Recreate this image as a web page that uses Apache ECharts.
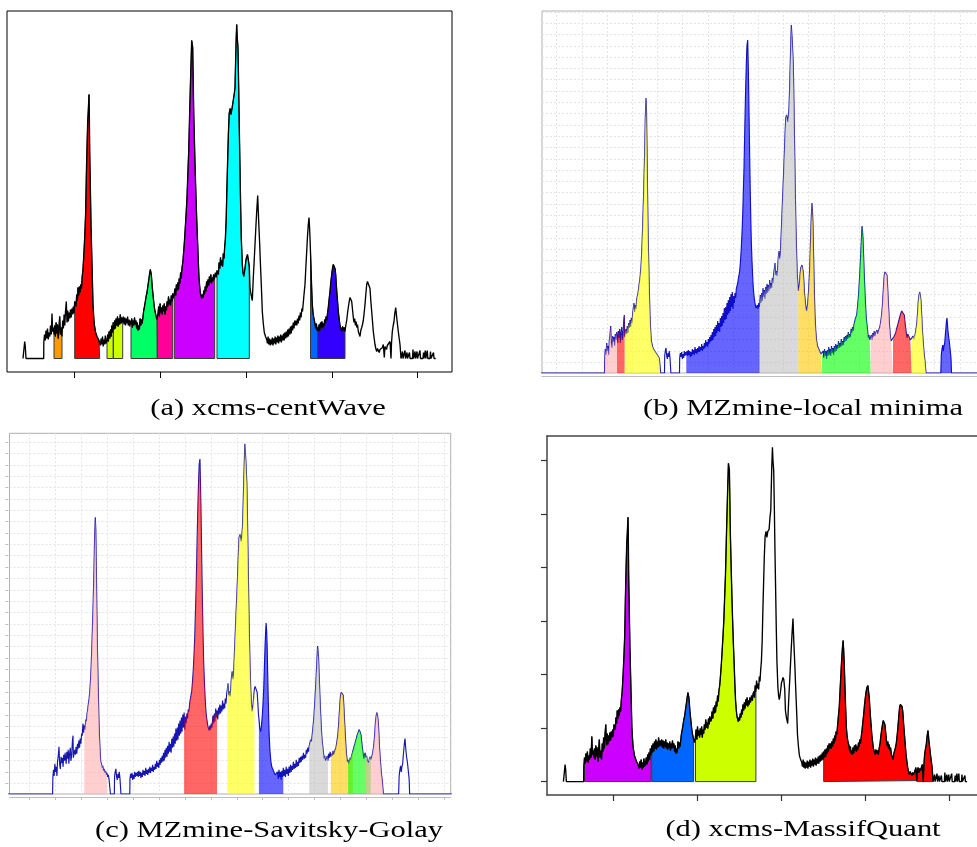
<!DOCTYPE html>
<html><head><meta charset="utf-8">
<script src="https://cdn.jsdelivr.net/npm/echarts@6/dist/echarts.min.js"></script>
<style>html,body{margin:0;padding:0;background:#fff;overflow:hidden}#c{width:977px;height:847px}</style>
</head><body><div id="c"></div><script>
// ---- xcms chromatogram (panels a, d): [scan, intensity] ----
const xcmsTrace = [
[3,0],[4,0],[4.7,17],[5.3,12],[6,0],[23.7,0],
[23.8,16],[24.5,24],[25.3,18],[26,28],[26.8,20],[27.5,30],[28.3,19],[29,26],[29.8,22],[30.5,33],[31.3,24],[32,45],[32.7,27],[33.5,31],[34,24],
[34.7,33],[35.4,22],[36.1,36],[36.8,25],[37.5,34],[38.2,20],[38.9,30],[39.7,42],[40.4,24],[41.1,31],[42,22],
[42.7,38],[43.4,30],[44.1,44],[44.8,33],[45.5,47],[46.3,57],[47,36],[47.7,48],[48.4,37],[49.1,46],[49.8,40],[50.5,49],[51.2,41],[51.9,50],[52.6,44],[53.3,52],[54,45],[54.7,57],
[55.3,58],[56,52],[56.7,64],[57.4,58],[58,71],[58.7,63],[59.4,72],[60.1,66],[60.8,74],[61.5,70],[62.2,82],[62.9,88],[63.7,101],[64.7,121],[65.7,147],[66.3,181],[67,211],[67.7,237],[68.3,248],[69,264],[69.3,248],[69.7,207],[70.3,174],[71,134],[72,94],[73,54],[73.7,42],[74.3,34],[75,30],[75.6,26],[76.3,24],[77,22],[77.7,20],[78.4,21],[79,18],[79.7,17],
[80.4,13],[81.1,20],[81.8,14],[82.5,22],[83.2,12],[83.9,19],[84.6,14],[85.3,23],[86,15],[87,18],
[87.7,24],[88.4,17],[89.1,27],[89.8,20],[90.5,29],[91.2,22],[91.9,33],[92.6,26],[93.3,36],[94,29],[94.7,38],[95.4,30],[96.1,40],[96.8,33],[97.5,42],[98.2,32],[98.9,40],[99.6,34],[100.3,44],[101,35],[101.7,41],[102.7,36],
[103.4,42],[104.1,34],[104.8,41],[105.5,33],[106.2,40],[106.9,35],[107.6,42],[108.3,33],[109,39],[109.7,32],[110.4,38],[111,34],
[111.7,40],[112.4,31],[113.1,38],[113.8,33],[114.5,41],[115.2,34],[115.9,38],[116.6,30],[117.3,36],[118,28],[118.7,33],[119.4,29],[120.1,40],[120.8,33],[121.5,39],[122.2,35],[123,42],[123.7,48],[124.5,52],[125.3,57],[126.1,62],[127,66],[127.8,72],[128.7,78],[129.5,84],[130.3,89],[131.3,84],[132.3,71],[133,64],[133.7,57],[134.5,50],[135.3,46],[136.1,42],[137,39],[137.3,41],
[138,45],[138.7,52],[139.4,42],[140.1,55],[140.8,46],[141.5,51],[142.2,44],[142.9,53],[143.6,47],[144.3,55],[145,44],[145.7,52],[146.4,48],[147.1,57],[147.8,52],[148.5,62],[149.2,54],[149.9,59],[150.6,53],[151.3,63],[152,57],[152.7,65],
[153.5,60],
[154.3,62],[155,70],[155.7,63],[156.4,74],[157.1,68],[157.8,76],[158.5,69],[159.2,80],[159.9,75],[160.6,86],[161.3,80],[162,91],[162.8,96],[163.7,107],[164.5,118],[165.3,131],[166.2,146],[167,161],[167.8,183],[168.7,207],[169.7,247],[170.7,284],[171.7,318],[172.7,311],[173.7,247],[174.7,207],[175.3,184],[176,161],[176.8,137],[177.7,114],[178.3,97],[179,81],[179.7,72],[180.3,66],[181,63],[181.7,60],[182.4,64],[183.1,61],[183.8,68],[184.5,64],[185.2,72],[185.9,67],[186.6,77],[187.3,71],[188,79],[188.7,73],[189.4,82],[190.1,76],[190.8,84],[191.5,75],[192.2,81],[192.9,77],[193.6,84],[194.3,79],[194.7,82],
[195.4,86],[196.2,81],[197,88],
[197.7,90],[198.4,84],[199.1,96],[199.8,90],[200.5,101],[201.2,93],[201.9,98],[202.6,92],[203.3,105],[204,100],[204.7,112],[205.4,120],[206.2,140],[206.9,170],[207.7,200],[208.4,225],[209.2,245],[210.2,250],[211,244],[212,250],[213.3,252],[214.3,265],[215,271],[216,314],[216.7,334],[217.3,320],[218,311],[218.7,270],[219.3,230],[220,190],[220.7,150],[221.3,120],[222.3,94],[223,86],[223.7,82],[224.4,86],[225.2,92],[226,99],[226.7,101],[227.5,104],[228.3,102],[229.3,92],
[230,71],[231,64],[231.7,61],[232.3,58],[233.3,81],[234.2,98],[235,114],[235.8,130],[236.7,147],[237.7,163],[238.3,147],[239,130],[239.7,114],[240.3,98],[241,81],[241.7,64],[242.3,47],[243.3,35],[244.3,26],[245.5,22],[246.7,19],
[247.4,15],[248.1,22],[248.8,14],[249.5,20],[250.2,13],[250.9,19],[251.6,14],[252.3,21],[253,13],[253.7,20],[254.4,15],[255.1,22],[255.8,14],[256.5,21],[257.2,16],[257.9,23],[258.6,15],[259.3,22],[260,17],[260.7,24],[261.4,16],[262.1,23],[262.8,18],[263.5,25],[264.2,18],[264.9,26],[265.6,20],[266.3,27],[267,21],[267.7,29],[268.4,22],[269.1,30],[269.8,24],[270.5,32],[271.2,25],[271.9,33],[272.6,28],[273.3,36],[274,30],[274.7,38],[275.4,33],[276.1,38],[276.8,33],[277.5,40],[278.2,35],[279,43],[279.7,38],[280.4,46],[281.1,41],[281.8,50],[282.5,47],[283.3,56],[284.2,66],[285,74],[285.8,90],[286.7,107],[287.5,122],[288.3,134],[289,141],[289.5,132],[290,121],[290.5,106],[291,91],[291.6,72],[292.3,54],[293,46],[293.7,41],[294.4,38],[295,36],[295.7,30],[296.4,35],[297.1,28],[297.7,31],
[298.4,27],[299.1,34],[299.8,28],[300.5,36],[301.2,31],[301.9,37],[302.6,30],[303.3,35],[304,32],[304.7,39],[305.4,35],[306.1,42],[306.8,38],[307.5,45],[308.3,51],[309.1,59],[310,67],[310.8,76],[311.7,84],[312.5,90],[313.3,94],[314.3,96],[315,90],[315.7,84],[316.3,74],[317,64],[317.7,55],[318.3,47],[319.1,40],[320,33],[320.8,30],[321.7,27],[322.5,32],[323.3,28],[324.2,31],[325,27],
[325.8,33],[326.7,38],[327.5,45],[328.3,51],[329.2,57],[330,61],[330.8,60],[331.7,57],[332.5,49],[333.3,41],[334,36],[334.7,40],[335.4,33],[336.1,37],[336.8,31],[337.5,34],[338.3,27],[339.1,25],[340,22],[340.8,28],[341.7,31],[342.5,34],[343.3,38],[344.2,46],[345,54],[345.8,64],[346.7,74],[347.5,77],[348.3,78],[349.2,75],[350,70],[350.8,58],[351.7,47],[352.5,37],[353.3,27],[354.2,20],[355,14],[355.8,10],[356.7,7],[357.5,10],[358.3,9],[359.2,6],[360,9],[361,7],[361.7,8],[362.5,11],[363.3,14],[364.3,1],[365,12],[365.7,14],[366.5,9],[367.3,13],[368.3,11],[369.2,15],[370,17],[371,0],[371.5,15],[372.3,27],[373.2,33],[374,37],[374.8,45],[375.7,51],[376.7,41],[377.5,34],[378.3,27],[379.2,20],[380,14],[381,0],
[382,0],[382.5,7],[383,0],[384.5,0],[385,8],[385.5,0],[386.5,0],[387,6],[387.5,0],[389,0],[389.5,6],[390,0],[392.5,0],[393,9],[393.5,0],[394.5,0],[395,7],[395.5,0],[396.5,0],[397,7],[397.5,0],[399.5,0],[400,8],[400.5,0],[403,0],[403.5,6],[404,0],[404.8,0],[405.3,8],[405.8,0],[406.8,0],[407.3,8],[407.8,0],[410,0],[410.5,7],[411,0],[413,0],[413.5,6],[414,0],[415.7,0]
];

// ---- MZmine chromatogram (panels b, c): [scan, intensity] ----
const mzmineTrace = [
[-70,0],[4.5,0],
[4.7,15],[5.3,24],[6,18],[6.7,30],[7.3,22],[8,27],[8.7,18],[9.3,33],[10,38],[10.7,47],[11.3,30],[12,25],[12.7,37],[13.3,31],[14,36],[14.7,27],[15.3,39],[16,33],[16.7,41],[17,36],
[17.7,30],[18.3,42],[19,35],[19.7,44],[20.3,30],[21,40],[21.7,46],[22.3,33],[23,38],[23.7,52],[24.3,58],[24.7,36],
[25.3,35],[26,44],[26.7,39],[27.3,47],[28,40],[28.7,50],[29.3,45],[30,53],[30.7,46],[31.3,55],[32,50],[32.7,60],[33.3,58],[34,70],[34.7,61],[35.3,68],[36,64],[36.7,74],[37.3,72],[38,80],[38.7,85],[39.3,90],[40,95],[40.7,103],[41.3,112],[42,128],[42.7,148],[43.2,165],[43.7,182],[44.2,202],[44.7,222],[45.3,255],[46,275],[46.5,262],[47,225],[47.5,185],[48,148],[48.5,122],[49,98],[49.5,76],[50,58],[50.7,42],[51.3,32],[52,30],[52.7,26],[53.3,28],[54,23],[54.7,25],[55.3,21],[56,23],[56.7,19],[57.3,21],[58,17],[58.7,19],[59.3,15],[60.3,14],[60.7,0],
[64.5,0],[64.7,17],[65.3,22],[66,25],[66.7,17],[67.3,14],[68,20],[68.7,16],[69.3,22],[70,15],[70.7,14],[70.9,0],
[79.5,0],[79.7,15],[80.3,20],[81,16],[81.7,21],[82.3,14],[83,19],[83.7,15],[84.3,22],[85,17],[85.7,21],[86.3,18],
[87,22],[87.7,17],[88.3,23],[89,18],[89.7,22],[90.3,16],[91,21],[91.7,17],[92.3,24],[93,19],[93.7,23],[94.3,18],[95,26],[95.7,20],[96.3,24],[97,19],[97.7,25],[98.3,21],[99,27],[99.7,21],[100.3,26],[101,23],[101.7,29],[102.3,22],[103,27],[103.7,24],[104.3,30],[105,25],[105.7,33],[106.3,27],[107,31],[107.7,26],[108.3,34],[109,29],[109.7,36],[110.3,31],[111,38],[111.7,32],[112.3,41],[113,33],[113.7,44],[114.3,36],[115,46],[115.7,37],[116.3,48],[117,40],[117.7,52],[118.3,42],[119,50],[119.7,41],[120.3,55],[121,46],[121.7,57],[122.3,47],[123,60],[123.7,50],[124.3,65],[125,53],[125.7,66],[126.3,54],[127,70],[127.7,58],[128.3,73],[129,60],[129.7,76],[130.3,62],[131,79],[131.7,66],[132.3,81],[133,64],[133.7,77],[134.3,70],[135,80],[135.7,75],[136.3,84],[137,82],[137.7,90],[138.3,94],[139,98],[139.7,102],[140.5,112],[141.3,125],[142,140],[142.7,158],[143.3,180],[144,205],[144.5,230],[145,255],[145.5,278],[146,298],[146.5,315],[147,328],[147.7,333],[148.2,310],[148.7,282],[149.2,248],[149.7,215],[150.2,185],[150.7,158],[151.3,132],[152,112],[152.7,96],[153.3,85],[154,77],[154.7,72],[155.3,68],[156,65],[156.7,63],[157.3,68],[158,64],[158.7,70],[159.3,66],[159.7,69],
[160.3,78],[161,70],[161.7,80],[162.3,72],[163,85],[163.7,76],[164.3,83],[165,74],[165.7,86],[166.3,79],[167,89],[167.7,80],[168.3,88],[169,82],[169.7,93],[170.3,84],[171,90],[171.7,85],[172.3,95],[173,90],[173.7,100],[174.3,104],[175,110],[175.6,98],[176.3,102],[177,97],[177.7,106],[178.3,116],[179,122],[179.7,114],[180.3,118],[181,135],[181.7,152],[182.3,168],[183,185],[183.7,202],[184.3,218],[185,238],[185.7,255],[186.7,258],[187.7,251],[188.3,256],[189,265],[189.7,288],[190.3,312],[190.8,330],[191.3,348],[191.8,340],[192.3,332],[192.8,320],[193.3,308],[193.8,280],[194.3,248],[194.8,215],[195.3,182],[195.8,155],[196.3,132],[196.8,114],[197.3,98],[198.3,82],
[199.3,88],[200,98],[200.7,105],[201.3,107],[202,108],[202.7,106],[203.3,101],[204,90],[204.5,80],[205,75],[205.8,66],[206.7,62],[207.5,68],[208.3,78],[209,90],[209.7,105],[210.3,125],[211,148],[211.5,160],[212,170],[212.5,162],[213,148],[213.5,122],[214,98],[214.5,76],[215,58],[215.8,42],[216.7,32],[217.5,27],[218.3,25],[219.2,23],[220,22],[220.8,19],[221.7,20],
[222.4,18],[223.1,22],[223.8,15],[224.5,24],[225.2,17],[225.9,22],[226.6,14],[227.3,23],[228,17],[228.7,26],[229.4,18],[230.1,24],[230.8,17],[231.5,27],[232.2,20],[232.9,25],[233.6,18],[234.3,27],[235,21],[235.7,29],[236.4,22],[237.1,28],[237.8,24],[238.5,32],[239.2,25],[239.9,30],[240.6,26],[241.3,34],[242,27],[242.7,32],[243.4,28],[244.1,36],[244.8,31],[245.5,37],[246.2,32],[246.9,38],[247.6,34],[248.3,41],[249,35],[249.7,39],[250.4,36],[251.1,44],[251.8,40],[252.5,46],[253.2,42],[253.9,48],[254.6,47],[255.3,54],[256,52],[256.7,58],[257.5,66],[258.3,75],[259,86],[259.7,98],[260.3,110],[261,125],[261.5,136],[262,147],[262.5,142],[263,135],[263.7,115],[264.3,98],[265,80],[265.7,65],[266.3,55],[267,48],[267.7,42],[268.3,35],[269,38],[269.7,33],[270.7,35],
[271.4,38],[272.1,33],[272.8,40],[273.5,36],[274.2,42],[274.9,37],[275.6,40],[276.3,38],[277,43],[277.7,39],[278.4,42],[279.1,41],[279.8,46],[280.5,50],[281.2,55],[281.8,60],[282.4,68],[283,78],[283.7,90],[284.3,98],[285,101],[285.7,102],[286.3,100],[287,98],[287.7,85],[288.3,72],[289,58],[289.7,45],[290.3,38],[291,32],[291.7,34],[292.3,30],[293,33],
[293.7,36],[294.3,34],[295,38],[295.7,40],[296.3,43],[297,45],[297.7,48],[298.3,50],[299,53],[299.7,55],[300.3,58],[301,60],[301.7,62],[302.3,64],[303,64],[303.7,61],[304.3,58],[305,51],[305.7,45],[306.3,40],[307,35],[307.7,39],[308.3,41],[309,36],[309.7,38],[310.3,33],[311,34],[311.7,31],
[312.3,35],[313,37],[313.7,34],[314.3,33],[315,38],[315.7,42],[316.3,46],[317,52],[317.7,62],[318.3,72],[319,78],[319.7,81],[320.3,78],[321,72],[321.7,58],[322.3,45],[323,34],[323.7,25],[324.3,18],[325,12],[326,0],
[340.8,0],[341.3,18],[342,24],[342.7,28],[343.3,22],[344,27],[344.7,30],[345.3,38],[346,46],[346.5,52],[347,55],[347.5,48],[348,42],[348.5,37],[349,34],[349.7,28],[350.3,22],[351,15],[351.5,0],[420,0]
];

// ---- detected peak ranges [startScan, endScan] ----
const centWavePeaks   = [[34,42],[54.7,79.7],[87,93.3],[93.3,102.7],[111,137.3],[137.3,152.7],[154.3,194.7],[197,229.3],[290.5,297.7],[297.7,325]];
const massifQuantPeaks = [[24.5,92.6],[93.3,136.1],[138,199.8],[269.1,364.3],[364.3,381]];
const localMinimaPeaks = [[4.7,17],[17,24.7],[24.7,60.3],[86.3,159.7],[159.7,198.3],[198.3,221.7],[221.7,270.7],[270.7,293],[293,311.7],[311.7,326],[340.8,351.5]];
const savGolayPeaks   = [[35.3,57.3],[132.3,164.3],[174.3,200.7],[205,228.7],[253.9,272.1],[274.9,296.3],[291.7,313.7],[309,326]];

// ---- tick values ----
const xcmsTicksX = [54,140,226,312,397];
const massifTicksY = [0,53.5,107,160.5,214,267.5,321];
const captions = ['(a) xcms-centWave','(b) MZmine-local minima','(c) MZmine-Savitsky-Golay','(d) xcms-MassifQuant'];

// ---- styles ----
const centWaveColors = ['#FF9900','#FF0000','#CCFF00','#CCFF00','#00FF66','#FF0099','#CC00FF','#00FFFF','#0066FF','#3300FF'];
const massifColors = ['#CC00FF','#0066FF','#CCFF00','#FF0000','#FF0000'];
const A = 0.6;
const jPink='rgba(255,175,175,'+A+')', jRed='rgba(255,0,0,'+A+')', jYellow='rgba(255,255,0,'+A+')', jBlue='rgba(0,0,255,'+A+')',
      jGray='rgba(192,192,192,'+A+')', jOrange='rgba(255,200,0,'+A+')', jGreen='rgba(0,255,0,'+A+')';
const localMinimaColors = [jPink,jRed,jYellow,jBlue,jGray,jOrange,jGreen,jPink,jRed,jYellow,jBlue];
const savGolayColors = [jPink,jRed,jYellow,jBlue,jGray,jOrange,jGreen,jPink];

const mzGridX = []; for (let k = 0; k <= 18; k++) mzGridX.push(+(-43.3 + 25.2 * k).toFixed(2));
const mzGridY = []; for (let k = 0; k <= 31; k++) mzGridY.push(+(10.8 + 11.3 * k).toFixed(2));

function slice(trace, b) {
  const pts = trace.filter(p => p[0] >= b[0] - 1e-6 && p[0] <= b[1] + 1e-6);
  const x0 = pts[0][0], x1 = pts[pts.length - 1][0];
  return [[x0, 0]].concat(pts, [[x1, 0], [x0, 0]]);
}

const series = [];
function xcmsPanel(idx, peaks, colors) {
  peaks.forEach((b, i) => series.push({
    type: 'line', xAxisIndex: idx, yAxisIndex: idx, data: slice(xcmsTrace, b),
    symbol: 'none', silent: true, z: 2,
    lineStyle: { color: '#3a3a3a', width: 1 },
    areaStyle: { color: colors[i], opacity: 1 }
  }));
  series.push({ type: 'line', xAxisIndex: idx, yAxisIndex: idx, data: xcmsTrace,
    symbol: 'none', silent: true, z: 3, lineStyle: { color: '#000', width: 1.35 } });
}
function mzPanel(idx, peaks, colors) {
  series.push({ type: 'line', xAxisIndex: idx, yAxisIndex: idx, data: mzmineTrace,
    symbol: 'none', silent: true, z: 2, lineStyle: { color: '#1616b0', width: 1.15 } });
  peaks.forEach((b, i) => series.push({
    type: 'line', xAxisIndex: idx, yAxisIndex: idx, data: slice(mzmineTrace, b),
    symbol: 'none', silent: true, z: 3,
    lineStyle: { width: 0, opacity: 0 },
    areaStyle: { color: colors[i], opacity: 1 }
  }));
}
xcmsPanel(0, centWavePeaks, centWaveColors);
mzPanel(1, localMinimaPeaks, localMinimaColors);
mzPanel(2, savGolayPeaks, savGolayColors);
xcmsPanel(3, massifQuantPeaks, massifColors);

const hidden = { show: false };
const gridLine = { show: true, lineStyle: { color: '#e4e4e4', width: 1, type: [2, 2] } };
const frameD = { show: true, onZero: false, lineStyle: { color: '#444', width: 1.5 } };

const xAxis = [
  { gridIndex: 0, type: 'value', min: -13, max: 432, axisLine: { show: false, onZero: false },
    axisTick: { show: true, length: 6, lineStyle: { color: '#000', width: 1 }, customValues: xcmsTicksX },
    axisLabel: hidden, splitLine: hidden },
  { gridIndex: 1, type: 'value', min: -58, max: 397, offset: 3,
    axisLine: { show: true, onZero: false, lineStyle: { color: '#bdbdbd', width: 1 } },
    axisTick: { show: false, customValues: mzGridX }, axisLabel: hidden, splitLine: gridLine },
  { gridIndex: 2, type: 'value', min: -37.4, max: 391.4, offset: 3,
    axisLine: { show: true, onZero: false, lineStyle: { color: '#bdbdbd', width: 1 } },
    axisTick: { show: true, length: 3, lineStyle: { color: '#bdbdbd' }, customValues: mzGridX },
    axisLabel: hidden, splitLine: gridLine },
  { gridIndex: 3, type: 'value', position: 'bottom', min: -13.8, max: 441.2, axisLine: frameD,
    axisTick: { show: true, length: 6, lineStyle: { color: '#333', width: 1.2 }, customValues: xcmsTicksX },
    axisLabel: hidden, splitLine: hidden },
  { gridIndex: 3, type: 'value', position: 'top', min: -13.8, max: 441.2, axisLine: frameD,
    axisTick: hidden, axisLabel: hidden, splitLine: hidden }
];
const yAxis = [
  { gridIndex: 0, type: 'value', min: -13.5, max: 347.5, axisLine: { show: false, onZero: false },
    axisTick: hidden, axisLabel: hidden, splitLine: hidden },
  { gridIndex: 1, type: 'value', min: 0, max: 362, axisLine: { show: false, onZero: false },
    axisTick: { show: false, customValues: mzGridY }, axisLabel: hidden, splitLine: gridLine },
  { gridIndex: 2, type: 'value', min: 0, max: 358.5, offset: 1, axisLine: { show: false, onZero: false },
    axisTick: { show: true, length: 3, lineStyle: { color: '#bdbdbd' }, customValues: mzGridY },
    axisLabel: hidden, splitLine: gridLine },
  { gridIndex: 3, type: 'value', position: 'left', min: -13.4, max: 345.3, axisLine: frameD,
    axisTick: { show: true, length: 6, lineStyle: { color: '#333', width: 1.2 }, customValues: massifTicksY },
    axisLabel: hidden, splitLine: hidden }
];

const gridBase = { backgroundColor: 'transparent', containLabel: false, outerBoundsMode: 'none' };
const grid = [
  Object.assign({ show: true, left: 7, top: 11, width: 445, height: 361, borderColor: '#000', borderWidth: 1 }, gridBase),
  Object.assign({ show: true, left: 542, top: 11, width: 455, height: 362, borderColor: '#b0b0b0', borderWidth: 1 }, gridBase),
  Object.assign({ show: true, left: 9.5, top: 433.3, width: 441.2, height: 360.7, borderColor: '#b0b0b0', borderWidth: 1 }, gridBase),
  Object.assign({ show: false, left: 547, top: 436, width: 445, height: 359 }, gridBase)
];

// captions: real text, stretched horizontally to match the reference
const capFont = '24px "Liberation Serif"';
const mctx = document.createElement('canvas').getContext('2d');
mctx.font = capFont;
const capScale = 348 / mctx.measureText(captions[2]).width;
const capPos = [[268, 409], [803, 409], [269, 831], [803, 830]];
const graphic = captions.map((t, i) => ({
  type: 'text', x: capPos[i][0], y: capPos[i][1], scaleX: capScale, silent: true,
  style: { text: t, font: capFont, fill: '#000', align: 'center', verticalAlign: 'middle' }
}));

const chart = echarts.init(document.getElementById('c'), null, { renderer: 'canvas' });
chart.setOption({ animation: false, backgroundColor: '#fff', grid, xAxis, yAxis, series, graphic });
</script></body></html>
